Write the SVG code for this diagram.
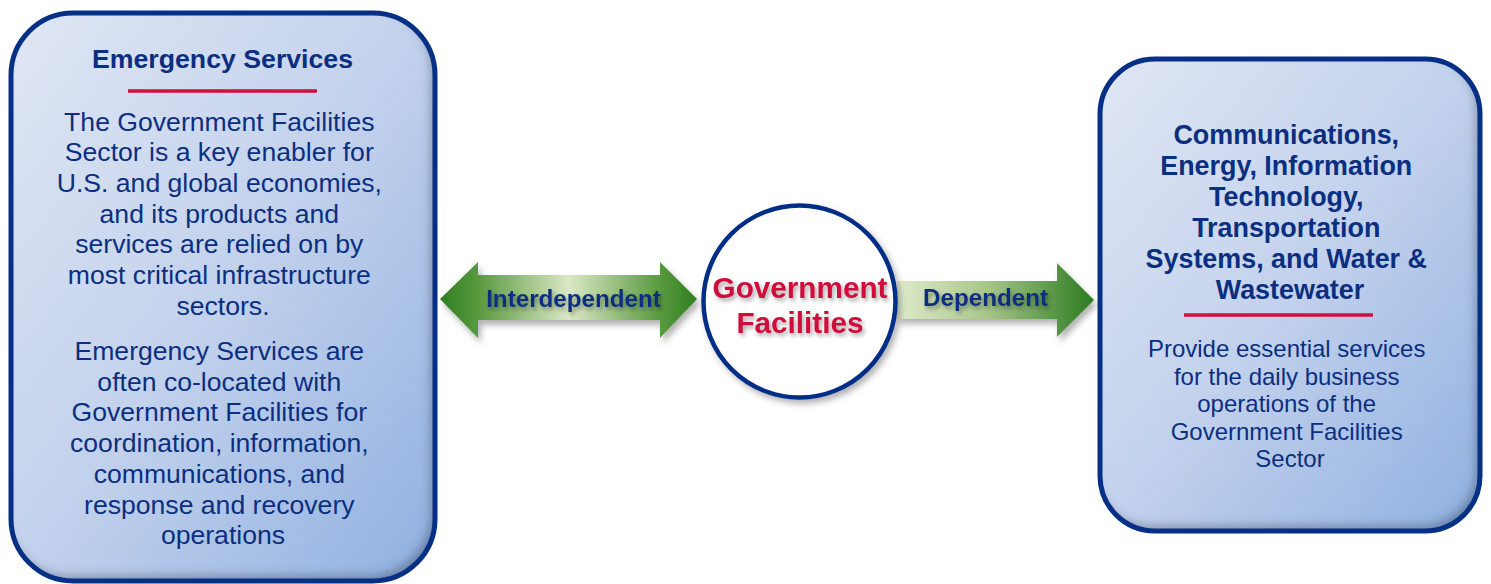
<svg xmlns="http://www.w3.org/2000/svg" width="1491" height="584" viewBox="0 0 1491 584">
<style>
.box{stroke:#062f86;stroke-width:5;fill:none}
.fill{fill:url(#boxGrad);filter:url(#inner)}
.t{font-family:"Liberation Sans",Arial,sans-serif;fill:#0b2f80;text-anchor:middle}
.h{font-weight:bold;font-size:26.7px}
.b{font-size:26.6px}
.rb{font-size:24px}
.lbl{font-family:"Liberation Sans",Arial,sans-serif;font-weight:bold;font-size:24.2px;fill:#0b2f80;text-anchor:middle;filter:url(#tshadow)}
.gf{font-family:"Liberation Sans",Arial,sans-serif;font-weight:bold;font-size:29.7px;fill:#cf0a3a;text-anchor:middle;filter:url(#tshadow)}
.red{stroke:#d0103a;stroke-width:3.5}
</style>
<defs>
<linearGradient id="boxGrad" x1="0" y1="0" x2="1" y2="1">
<stop offset="0" stop-color="#e0e7f4"/>
<stop offset="0.5" stop-color="#c2d1ec"/>
<stop offset="1" stop-color="#8fb0e0"/>
</linearGradient>
<linearGradient id="dbl" x1="440" y1="0" x2="698" y2="0" gradientUnits="userSpaceOnUse">
<stop offset="0" stop-color="#2f7e22"/>
<stop offset="0.15" stop-color="#5a9a3e"/>
<stop offset="0.5" stop-color="#dbe8c6"/>
<stop offset="0.85" stop-color="#5a9a3e"/>
<stop offset="1" stop-color="#2f7e22"/>
</linearGradient>
<linearGradient id="sgl" x1="897" y1="0" x2="1095" y2="0" gradientUnits="userSpaceOnUse">
<stop offset="0" stop-color="#dfeacb"/>
<stop offset="0.45" stop-color="#a9c78a"/>
<stop offset="1" stop-color="#2a7a1f"/>
</linearGradient>
<filter id="inner" x="-5%" y="-5%" width="110%" height="110%">
<feGaussianBlur in="SourceAlpha" stdDeviation="5"/>
<feOffset dx="-5" dy="-6" result="o"/>
<feComposite in="SourceAlpha" in2="o" operator="out" result="edge"/>
<feFlood flood-color="#2a3550" flood-opacity="0.55"/>
<feComposite in2="edge" operator="in" result="sh"/>
<feMerge><feMergeNode in="SourceGraphic"/><feMergeNode in="sh"/></feMerge>
</filter>
<filter id="ashadow" x="-10%" y="-20%" width="120%" height="150%">
<feDropShadow dx="3" dy="5" stdDeviation="3" flood-color="#000" flood-opacity="0.3"/>
</filter>
<filter id="tshadow" x="-10%" y="-30%" width="120%" height="160%">
<feDropShadow dx="2" dy="3" stdDeviation="2" flood-color="#000" flood-opacity="0.35"/>
</filter>
<filter id="cshadow" x="-10%" y="-10%" width="125%" height="125%">
<feDropShadow dx="3" dy="4" stdDeviation="3" flood-color="#000" flood-opacity="0.3"/>
</filter>
</defs>
<rect width="1491" height="584" fill="#ffffff"/>

<g id="connectors">
<g id="interdependent-arrow" filter="url(#ashadow)">
<polygon points="440,299 478,262 478,275 660,275 660,262 697,299 660,338 660,320 478,320 478,338" fill="url(#dbl)"/>
<text class="lbl" x="573.5" y="307">Interdependent</text>
</g>
<g id="dependent-arrow" filter="url(#ashadow)">
<polygon points="897,281 1057,281 1057,263 1094,300 1057,337 1057,319 897,319" fill="url(#sgl)"/>
<text class="lbl" x="985.5" y="306">Dependent</text>
</g>
</g>

<g id="emergency-services">
<rect class="fill" x="11" y="13" width="424" height="568" rx="62"/>
<rect class="box" x="11" y="13" width="424" height="568" rx="62"/>
<text class="t h" x="222.5" y="68">Emergency Services</text>
<line class="red" x1="128" y1="91" x2="317" y2="91"/>
<text class="t b">
<tspan x="223" y="130.5">The Government Facilities</tspan>
<tspan x="223" y="161.2">Sector is a key enabler for</tspan>
<tspan x="223" y="191.9">U.S. and global economies,</tspan>
<tspan x="223" y="222.6">and its products and</tspan>
<tspan x="223" y="253.3">services are relied on by</tspan>
<tspan x="223" y="284">most critical infrastructure</tspan>
<tspan x="223" y="314.7">sectors.</tspan>
</text>
<text class="t b">
<tspan x="223" y="360">Emergency Services are</tspan>
<tspan x="223" y="390.7">often co-located with</tspan>
<tspan x="223" y="421.4">Government Facilities for</tspan>
<tspan x="223" y="452.1">coordination, information,</tspan>
<tspan x="223" y="482.8">communications, and</tspan>
<tspan x="223" y="513.5">response and recovery</tspan>
<tspan x="223" y="544.2">operations</tspan>
</text>
</g>

<g id="government-facilities">
<circle cx="799.5" cy="301.5" r="96" fill="#ffffff" stroke="#062f86" stroke-width="4.5" filter="url(#cshadow)"/>
<text class="gf" x="800" y="298">Government</text>
<text class="gf" x="800" y="333">Facilities</text>
</g>

<g id="dependencies">
<rect class="fill" x="1100" y="59" width="380" height="472" rx="55"/>
<rect class="box" x="1100" y="59" width="380" height="472" rx="55"/>
<text class="t h" style="font-size:26.9px">
<tspan x="1290" y="144">Communications,</tspan>
<tspan x="1290" y="175">Energy, Information</tspan>
<tspan x="1290" y="206">Technology,</tspan>
<tspan x="1290" y="237">Transportation</tspan>
<tspan x="1290" y="268">Systems, and Water &amp;</tspan>
<tspan x="1290" y="299">Wastewater</tspan>
</text>
<line class="red" x1="1184" y1="315" x2="1373" y2="315"/>
<text class="t rb">
<tspan x="1290" y="357">Provide essential services</tspan>
<tspan x="1290" y="384.5">for the daily business</tspan>
<tspan x="1290" y="412">operations of the</tspan>
<tspan x="1290" y="439.5">Government Facilities</tspan>
<tspan x="1290" y="467">Sector</tspan>
</text>
</g>
</svg>
